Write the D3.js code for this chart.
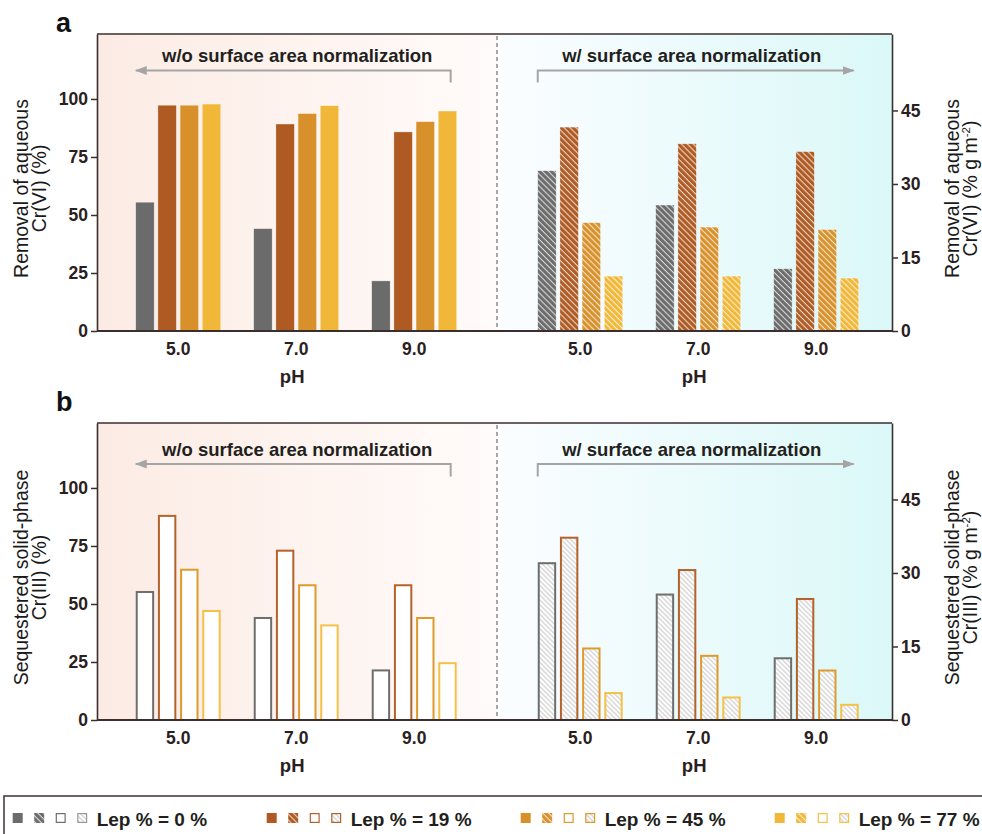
<!DOCTYPE html>
<html>
<head>
<meta charset="utf-8">
<script src="https://cdn.jsdelivr.net/npm/d3@7"></script>
<style>
  body { margin: 0; background: #fff; }
  text { font-family: "Liberation Sans", Arial, sans-serif; }
</style>
</head>
<body>
<div id="chart"></div>
<script>
// ---- data ----
const pH = ["5.0", "7.0", "9.0"];
const lep = ["0", "19", "45", "77"];
const legendLabels = ["Lep % = 0 %", "Lep % = 19 %", "Lep % = 45 %", "Lep % = 77 %"];

// panel a: removal of aqueous Cr(VI), rows = pH, cols = Lep %
const removalPct = [[55.5, 97.3, 97.3, 97.8], [44.1, 89.2, 93.7, 97.1], [21.6, 85.8, 90.2, 94.8]];
const removalNorm = [[32.7, 41.6, 22.1, 11.2], [25.7, 38.2, 21.2, 11.2], [12.7, 36.6, 20.7, 10.8]];
// panel b: sequestered solid-phase Cr(III)
const sequesteredPct = [[55.6, 88.4, 65.2, 47.4], [44.4, 73.4, 58.5, 41.2], [21.8, 58.5, 44.4, 24.9]];
const sequesteredNorm = [[32.2, 37.4, 14.8, 5.7], [25.8, 30.8, 13.3, 4.8], [12.8, 24.9, 10.3, 3.3]];

const leftTicks = [0, 25, 50, 75, 100];
const rightTicks = [0, 15, 30, 45];

// ---- style ----
const colors = ["#6b6b6b", "#ae5a22", "#d8912a", "#f1b739"];
const outline = ["#6e6e6e", "#b5622a", "#df9a2c", "#f4c146"];
const axisColor = "#3a2e2e";
const textColor = "#2a2020";

const width = 982, height = 834;
const x0 = 97, x1 = 892, xm = 497, plotH = 297;

const svg = d3.select('#chart').append('svg')
  .attr('width', width)
  .attr('height', height)
  .style('background-color', 'white');

const defs = svg.append('defs');

// background gradients
const gradL = defs.append('linearGradient').attr('id', 'bgL');
gradL.append('stop').attr('offset', '0%').attr('stop-color', '#fcebe4');
gradL.append('stop').attr('offset', '100%').attr('stop-color', '#fffbfa');
const gradR = defs.append('linearGradient').attr('id', 'bgR');
gradR.append('stop').attr('offset', '0%').attr('stop-color', '#fbfdff');
gradR.append('stop').attr('offset', '100%').attr('stop-color', '#dbf8f8');

// hatch patterns: coloured with white lines, and white with grey lines
colors.forEach((c, i) => {
  const p = defs.append('pattern')
    .attr('id', 'hatch' + i)
    .attr('patternUnits', 'userSpaceOnUse')
    .attr('width', 4.2).attr('height', 4.2)
    .attr('patternTransform', 'rotate(-45)');
  p.append('rect').attr('width', 4.2).attr('height', 4.2).attr('fill', c);
  p.append('line').attr('x1', 2).attr('x2', 2).attr('y1', 0).attr('y2', 4.2)
    .attr('stroke', 'rgba(255,255,255,0.75)').attr('stroke-width', 1.1);
});
const pg = defs.append('pattern')
  .attr('id', 'hatchGray')
  .attr('patternUnits', 'userSpaceOnUse')
  .attr('width', 3.4).attr('height', 3.4)
  .attr('patternTransform', 'rotate(-45)');
pg.append('rect').attr('width', 3.4).attr('height', 3.4).attr('fill', '#fff');
pg.append('line').attr('x1', 1.7).attr('x2', 1.7).attr('y1', 0).attr('y2', 3.4)
  .attr('stroke', '#bdbdbd').attr('stroke-width', 0.9);

const arrow = defs.append('marker')
  .attr('id', 'arrow')
  .attr('viewBox', '0 0 12 10')
  .attr('refX', 11).attr('refY', 5)
  .attr('markerWidth', 12).attr('markerHeight', 10)
  .attr('markerUnits', 'userSpaceOnUse')
  .attr('orient', 'auto');
arrow.append('path').attr('d', 'M0,0.5 L12,5 L0,9.5 Z').attr('fill', '#a5a5a5');

// group + series scales (shared by both panels)
const xLeft = d3.scaleBand().domain(pH).range([x0, xm]).paddingInner(0.28).paddingOuter(0.335).align(0.49);
const xRight = d3.scaleBand().domain(pH).range([xm, x1]).paddingInner(0.28).paddingOuter(0.314).align(0.55);
const xSeries = d3.scaleBand().domain(lep).range([0, xLeft.bandwidth()]).paddingInner(0.17);

const panels = [
  {
    top: 34, letter: 'a', letterY: 32,
    left: removalPct, right: removalNorm, styleL: 'solid', styleR: 'hatch',
    titleL: ['Removal of aqueous', 'Cr(VI) (%)'],
    titleR: ['Removal of aqueous', 'Cr(VI) (% g m'],
    annText: 28, annLine: 36.5, annEnd: 48.5
  },
  {
    top: 423, letter: 'b', letterY: 411,
    left: sequesteredPct, right: sequesteredNorm, styleL: 'open', styleR: 'grayhatch',
    titleL: ['Sequestered solid-phase', 'Cr(III) (%)'],
    titleR: ['Sequestered solid-phase', 'Cr(III) (% g m'],
    annText: 33, annLine: 41, annEnd: 53.5
  }
];

function drawBars(g, x, y, data, style) {
  data.forEach((row, i) => {
    g.selectAll(null)
      .data(row)
      .enter()
      .append('rect')
      .each(function (d, j) {
        const r = d3.select(this);
        const bx = x(pH[i]) + xSeries(lep[j]);
        const bw = xSeries.bandwidth();
        if (style === 'solid' || style === 'hatch') {
          r.attr('x', bx).attr('width', bw)
            .attr('y', y(d)).attr('height', y(0) - y(d))
            .attr('fill', style === 'solid' ? colors[j] : `url(#hatch${j})`)
            .attr('stroke', 'rgba(255,255,255,0.5)').attr('stroke-width', 0.6);
        } else {
          r.attr('x', bx + 1).attr('width', bw - 2)
            .attr('y', y(d) + 1).attr('height', y(0) - y(d) - 1)
            .attr('fill', style === 'open' ? '#fff' : 'url(#hatchGray)')
            .attr('stroke', outline[j]).attr('stroke-width', 2);
        }
      });
  });
}

panels.forEach(p => {
  const top = p.top, bottom = p.top + plotH;
  const g = svg.append('g');

  const yL = d3.scaleLinear().domain([0, 128]).range([bottom, top]);
  const yR = d3.scaleLinear().domain([0, 60.6]).range([bottom, top]);

  // backgrounds
  g.append('rect').attr('x', x0).attr('y', top).attr('width', xm - x0).attr('height', plotH).attr('fill', 'url(#bgL)');
  g.append('rect').attr('x', xm).attr('y', top).attr('width', x1 - xm).attr('height', plotH).attr('fill', 'url(#bgR)');

  // dashed divider
  g.append('line')
    .attr('x1', xm).attr('x2', xm).attr('y1', top + 2).attr('y2', bottom)
    .attr('stroke', '#7a7a7a').attr('stroke-width', 1.3).attr('stroke-dasharray', '4,3');

  drawBars(g, xLeft, yL, p.left, p.styleL);
  drawBars(g, xRight, yR, p.right, p.styleR);

  // frame
  g.append('line').attr('x1', x0).attr('x2', x1).attr('y1', top).attr('y2', top)
    .attr('stroke', axisColor).attr('stroke-width', 1.6);
  g.append('line').attr('x1', x0).attr('x2', x1).attr('y1', bottom).attr('y2', bottom)
    .attr('stroke', axisColor).attr('stroke-width', 1.8);

  const axL = g.append('g')
    .attr('transform', `translate(${x0},0)`)
    .call(d3.axisLeft(yL).tickValues(leftTicks).tickSize(6).tickSizeOuter(0).tickPadding(3));
  const axR = g.append('g')
    .attr('transform', `translate(${x1},0)`)
    .call(d3.axisRight(yR).tickValues(rightTicks).tickSize(6).tickSizeOuter(0).tickPadding(3));
  [axL, axR].forEach(ax => {
    ax.select('.domain').attr('stroke', axisColor).attr('stroke-width', 1.6);
    ax.selectAll('.tick line').attr('stroke', axisColor).attr('stroke-width', 1.5);
    ax.selectAll('.tick text')
      .attr('fill', textColor)
      .style('font-size', '17.5px')
      .style('font-weight', 'bold')
      .style('font-family', '"Liberation Sans", Arial, sans-serif');
  });

  // x tick labels and axis titles
  [xLeft, xRight].forEach(x => {
    g.selectAll(null)
      .data(pH)
      .enter()
      .append('text')
      .attr('x', d => x(d) + x.bandwidth() / 2)
      .attr('y', bottom + 24)
      .attr('text-anchor', 'middle')
      .attr('fill', textColor)
      .style('font-size', '17.5px')
      .style('font-weight', 'bold')
      .text(d => d);
    g.append('text')
      .attr('x', x(pH[1]) + x.bandwidth() / 2 - 4)
      .attr('y', bottom + 52)
      .attr('text-anchor', 'middle')
      .attr('fill', textColor)
      .style('font-size', '18.5px')
      .style('font-weight', 'bold')
      .text('pH');
  });

  // panel letter
  g.append('text')
    .attr('x', 56).attr('y', p.letterY)
    .attr('fill', '#111')
    .style('font-size', '27px')
    .style('font-weight', 'bold')
    .text(p.letter);

  // y titles
  const cy = (top + bottom) / 2 + 6;
  const tl = g.append('text')
    .attr('transform', `translate(28,${cy}) rotate(-90)`)
    .attr('text-anchor', 'middle')
    .attr('fill', '#1a1a1a')
    .style('font-size', '19.5px');
  tl.append('tspan').attr('x', 0).attr('y', 0).text(p.titleL[0]);
  tl.append('tspan').attr('x', 0).attr('y', 18).text(p.titleL[1]);

  const tr = g.append('text')
    .attr('transform', `translate(959,${cy}) rotate(-90)`)
    .attr('text-anchor', 'middle')
    .attr('fill', '#1a1a1a')
    .style('font-size', '19.5px');
  tr.append('tspan').attr('x', 0).attr('y', 0).text(p.titleR[0]);
  tr.append('tspan').attr('x', 0).attr('y', 18).text(p.titleR[1]);
  tr.append('tspan').attr('dy', -7).style('font-size', '11.5px').text('-2');
  tr.append('tspan').attr('dy', 7).text(')');

  // normalization annotations
  const lTip = xLeft(pH[0]);
  const lCorner = xLeft(pH[2]) + xLeft.bandwidth() - 6;
  const rCorner = xRight(pH[0]);
  const rTip = xRight(pH[2]) + xRight.bandwidth() - 5;
  const ann = '#a5a5a5';

  g.append('path')
    .attr('d', `M${lCorner},${top + p.annEnd} V${top + p.annLine} H${lTip}`)
    .attr('fill', 'none').attr('stroke', ann).attr('stroke-width', 2)
    .attr('marker-end', 'url(#arrow)');
  g.append('path')
    .attr('d', `M${rCorner},${top + p.annEnd} V${top + p.annLine} H${rTip}`)
    .attr('fill', 'none').attr('stroke', ann).attr('stroke-width', 2)
    .attr('marker-end', 'url(#arrow)');

  g.append('text')
    .attr('x', (lTip + lCorner) / 2 + 4).attr('y', top + p.annText)
    .attr('text-anchor', 'middle')
    .attr('fill', '#231f20')
    .style('font-size', '18.5px').style('font-weight', 'bold')
    .text('w/o surface area normalization');
  g.append('text')
    .attr('x', (rCorner + rTip) / 2 - 4).attr('y', top + p.annText)
    .attr('text-anchor', 'middle')
    .attr('fill', '#231f20')
    .style('font-size', '18.5px').style('font-weight', 'bold')
    .text('w/ surface area normalization');
});

// ---- legend ----
const legend = svg.append('g');
legend.append('rect')
  .attr('x', 4).attr('y', 796).attr('width', 990).attr('height', 60)
  .attr('fill', '#fff').attr('stroke', '#3b3333').attr('stroke-width', 1.5);

const legendX = d3.scaleBand().domain(lep).range([12.7, 12.7 + 254 * 4]);
const swatch = [
  j => ({ fill: colors[j], stroke: 'none' }),
  j => ({ fill: `url(#hatch${j})`, stroke: 'none' }),
  j => ({ fill: '#fff', stroke: outline[j] }),
  j => ({ fill: 'url(#hatchGray)', stroke: j === 0 ? '#9a9a9a' : outline[j] })
];
lep.forEach((l, j) => {
  const gx = legendX(l);
  swatch.forEach((s, k) => {
    const st = s(j);
    const solid = st.stroke === 'none';
    legend.append('rect')
      .attr('x', gx + k * 21.5 + (solid ? 0 : 0.6))
      .attr('y', 813 + (solid ? 0 : 0.6))
      .attr('width', solid ? 10 : 8.8)
      .attr('height', solid ? 10 : 8.8)
      .attr('fill', st.fill)
      .attr('stroke', st.stroke)
      .attr('stroke-width', 1.2);
  });
  legend.append('text')
    .attr('x', gx + 84).attr('y', 826)
    .attr('fill', '#231f20')
    .style('font-size', '19px').style('font-weight', 'bold')
    .text(legendLabels[j]);
});
</script>
</body>
</html>
